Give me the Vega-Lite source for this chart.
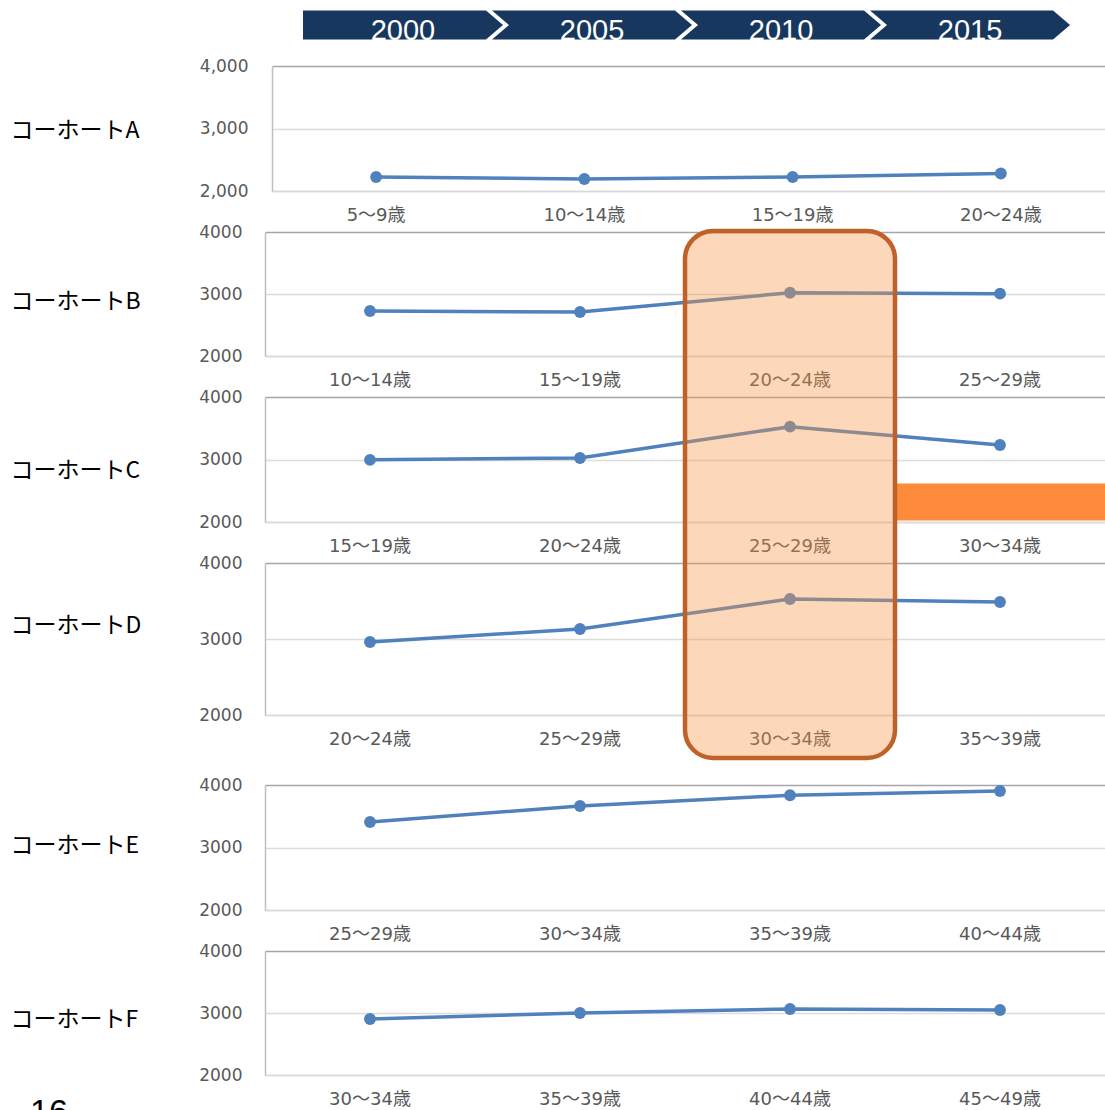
{
  "$schema": "https://vega.github.io/schema/vega-lite/v6.json",
  "background": "white",
  "padding": {"left": 10, "top": 10, "right": 0, "bottom": 0},
  "bounds": "flush",
  "spacing": 41,
  "datasets": {
    "cohorts": [
      {"cohort": "A", "year": 2000, "age": "5〜9歳", "value": 2224},
      {"cohort": "A", "year": 2005, "age": "10〜14歳", "value": 2192},
      {"cohort": "A", "year": 2010, "age": "15〜19歳", "value": 2224},
      {"cohort": "A", "year": 2015, "age": "20〜24歳", "value": 2280},
      {"cohort": "B", "year": 2000, "age": "10〜14歳", "value": 2726},
      {"cohort": "B", "year": 2005, "age": "15〜19歳", "value": 2710},
      {"cohort": "B", "year": 2010, "age": "20〜24歳", "value": 3020},
      {"cohort": "B", "year": 2015, "age": "25〜29歳", "value": 3005},
      {"cohort": "C", "year": 2000, "age": "15〜19歳", "value": 2995},
      {"cohort": "C", "year": 2005, "age": "20〜24歳", "value": 3024},
      {"cohort": "C", "year": 2010, "age": "25〜29歳", "value": 3525},
      {"cohort": "C", "year": 2015, "age": "30〜34歳", "value": 3232},
      {"cohort": "D", "year": 2000, "age": "20〜24歳", "value": 2960},
      {"cohort": "D", "year": 2005, "age": "25〜29歳", "value": 3132},
      {"cohort": "D", "year": 2010, "age": "30〜34歳", "value": 3526},
      {"cohort": "D", "year": 2015, "age": "35〜39歳", "value": 3487},
      {"cohort": "E", "year": 2000, "age": "25〜29歳", "value": 3408},
      {"cohort": "E", "year": 2005, "age": "30〜34歳", "value": 3664},
      {"cohort": "E", "year": 2010, "age": "35〜39歳", "value": 3836},
      {"cohort": "E", "year": 2015, "age": "40〜44歳", "value": 3904},
      {"cohort": "F", "year": 2000, "age": "30〜34歳", "value": 2903},
      {"cohort": "F", "year": 2005, "age": "35〜39歳", "value": 3000},
      {"cohort": "F", "year": 2010, "age": "40〜44歳", "value": 3065},
      {"cohort": "F", "year": 2015, "age": "45〜49歳", "value": 3048}
    ]
  },
  "config": {
    "view": {"stroke": null},
    "axis": {"ticks": false, "tickSize": 0},
    "axisX": {"title": null, "labelAngle": 0, "labelPadding": 24, "labelBaseline": "middle", "labelFont": "DejaVu Sans, Noto Sans CJK JP", "labelFontSize": 18, "labelColor": "#595959", "domainColor": "#d9d9d9", "domainWidth": 1.5, "grid": false},
    "axisY": {"format": "d", "labelPadding": 23, "labelFont": "DejaVu Sans", "labelFontSize": 17, "labelColor": "#595959", "domainColor": "#bfbfbf", "domainWidth": 1.5, "grid": true, "gridColor": {"condition": {"test": "datum.value === 4000", "value": "#a6a6a6"}, "value": "#dcdcdc"}, "gridWidth": 1.5, "titleAngle": 0, "titleAlign": "left", "titleBaseline": "middle", "titleX": -255, "titleFont": "Noto Sans CJK JP", "titleFontSize": 23, "titleFontWeight": "normal", "titleColor": "#000000"}
  },
  "resolve": {"scale": {"x": "independent", "y": "independent"}},
  "vconcat": [
    {
      "width": 840, "height": 14,
      "data": {"name": "cohorts"},
      "transform": [{"filter": "datum.cohort === 'A'"}],
      "layer": [
        {
          "mark": {"type": "point", "filled": true, "size": 40000, "color": "#17375e", "opacity": 1, "strokeWidth": 0, "y": "height"},
          "encoding": {
            "x": {"field": "year", "type": "quantitative", "scale": {"domain": [1996.35, 2018.57], "nice": false, "zero": false}, "axis": null},
            "shape": {"condition": {"test": "datum.year === 2000", "value": "M-1,-0.145L0.83,-0.145L1,0L0.83,0.145L-1,0.145Z"}, "value": "M-1,-0.145L0.83,-0.145L1,0L0.83,0.145L-1,0.145L-0.83,0Z"}
          }
        },
        {
          "mark": {"type": "text", "color": "#ffffff", "font": "Liberation Sans", "fontSize": 29, "baseline": "alphabetic", "y": "height", "dy": 15},
          "encoding": {
            "x": {"field": "year", "type": "quantitative"},
            "text": {"field": "year", "type": "nominal"}
          }
        }
      ]
    },
    {
      "width": 840, "height": 125,
      "data": {"name": "cohorts"},
      "transform": [{"filter": "datum.cohort === 'A'"}],
      "mark": {"type": "line", "color": "#4f81bd", "strokeWidth": 3.5, "point": {"filled": true, "size": 140, "color": "#4f81bd", "opacity": 1}},
      "encoding": {
        "x": {"field": "age", "type": "nominal", "sort": null, "scale": {"type": "band", "paddingInner": 0, "paddingOuter": 0, "range": [7, 840]}},
        "y": {"field": "value", "type": "quantitative", "scale": {"domain": [2000, 4000], "nice": false, "zero": false}, "axis": {"values": [2000, 3000, 4000], "title": "コーホートA", "titleY": 64.5, "titleX": -262, "offset": -7, "format": ",d", "labelPadding": 24}}
      }
    },
    {
      "width": 840, "height": 124,
      "data": {"name": "cohorts"},
      "transform": [{"filter": "datum.cohort === 'B'"}],
      "mark": {"type": "line", "color": "#4f81bd", "strokeWidth": 3.5, "point": {"filled": true, "size": 140, "color": "#4f81bd", "opacity": 1}},
      "encoding": {
        "x": {"field": "age", "type": "nominal", "sort": null, "scale": {"type": "band", "paddingInner": 0, "paddingOuter": 0}},
        "y": {"field": "value", "type": "quantitative", "scale": {"domain": [2000, 4000], "nice": false, "zero": false}, "axis": {"values": [2000, 3000, 4000], "title": "コーホートB", "titleY": 69.5}}
      }
    },
    {
      "width": 840, "height": 125,
      "data": {"name": "cohorts"},
      "transform": [{"filter": "datum.cohort === 'C'"}],
      "encoding": {
        "x": {"field": "age", "type": "nominal", "sort": null, "scale": {"type": "band", "paddingInner": 0, "paddingOuter": 0}}
      },
      "layer": [
        {
          "mark": {"type": "line", "color": "#4f81bd", "strokeWidth": 3.5, "point": {"filled": true, "size": 140, "color": "#4f81bd", "opacity": 1}},
          "encoding": {
            "y": {"field": "value", "type": "quantitative", "scale": {"domain": [2000, 4000], "nice": false, "zero": false}, "axis": {"values": [2000, 3000, 4000], "title": "コーホートC", "titleY": 73.5}}
          }
        },
        {
          "transform": [{"filter": "datum.year === 2015"}],
          "mark": {"type": "rect", "fill": "#fd8b3b", "opacity": 1, "strokeWidth": 0},
          "encoding": {
            "y": {"datum": 2616},
            "y2": {"datum": 2024}
          }
        }
      ]
    },
    {
      "width": 840, "height": 181,
      "data": {"name": "cohorts"},
      "transform": [{"filter": "datum.cohort === 'D'"}],
      "encoding": {
        "x": {"field": "age", "type": "nominal", "sort": null, "scale": {"type": "band", "paddingInner": 0, "paddingOuter": 0}, "axis": {"offset": -29}}
      },
      "layer": [
        {
          "mark": {"type": "line", "color": "#4f81bd", "strokeWidth": 3.5, "point": {"filled": true, "size": 140, "color": "#4f81bd", "opacity": 1}},
          "encoding": {
            "y": {"field": "value", "type": "quantitative", "scale": {"domain": [2000, 4000], "nice": false, "zero": false, "range": [152, 0]}, "axis": {"values": [2000, 3000, 4000], "title": "コーホートD", "titleY": 62.5}}
          }
        },
        {
          "transform": [{"filter": "datum.year === 2010"}],
          "mark": {"type": "rect", "fill": "#f79646", "fillOpacity": 0.38, "stroke": "#bf6229", "strokeWidth": 4.5, "cornerRadius": 28, "opacity": 1, "clip": false},
          "encoding": {
            "y": {"datum": 8370},
            "y2": {"datum": 1435}
          }
        }
      ]
    },
    {
      "width": 840, "height": 125,
      "data": {"name": "cohorts"},
      "transform": [{"filter": "datum.cohort === 'E'"}],
      "mark": {"type": "line", "color": "#4f81bd", "strokeWidth": 3.5, "point": {"filled": true, "size": 140, "color": "#4f81bd", "opacity": 1}},
      "encoding": {
        "x": {"field": "age", "type": "nominal", "sort": null, "scale": {"type": "band", "paddingInner": 0, "paddingOuter": 0}},
        "y": {"field": "value", "type": "quantitative", "scale": {"domain": [2000, 4000], "nice": false, "zero": false}, "axis": {"values": [2000, 3000, 4000], "title": "コーホートE", "titleY": 60.5}}
      }
    },
    {
      "width": 840, "height": 124,
      "data": {"name": "cohorts"},
      "transform": [{"filter": "datum.cohort === 'F'"}],
      "encoding": {
        "x": {"field": "age", "type": "nominal", "sort": null, "scale": {"type": "band", "paddingInner": 0, "paddingOuter": 0}}
      },
      "layer": [
        {
          "mark": {"type": "line", "color": "#4f81bd", "strokeWidth": 3.5, "point": {"filled": true, "size": 140, "color": "#4f81bd", "opacity": 1}},
          "encoding": {
            "y": {"field": "value", "type": "quantitative", "scale": {"domain": [2000, 4000], "nice": false, "zero": false}, "axis": {"values": [2000, 3000, 4000], "title": "コーホートF", "titleY": 68.5}}
          }
        },
        {
          "transform": [{"filter": "datum.year === 2000"}],
          "mark": {"type": "text", "text": "16", "font": "Liberation Sans", "fontSize": 34, "color": "#000000", "align": "left", "baseline": "alphabetic", "dx": -235, "dy": 48},
          "encoding": {
            "x": {"field": "age", "type": "nominal", "bandPosition": 0},
            "y": {"datum": 2000}
          }
        }
      ]
    }
  ]
}
